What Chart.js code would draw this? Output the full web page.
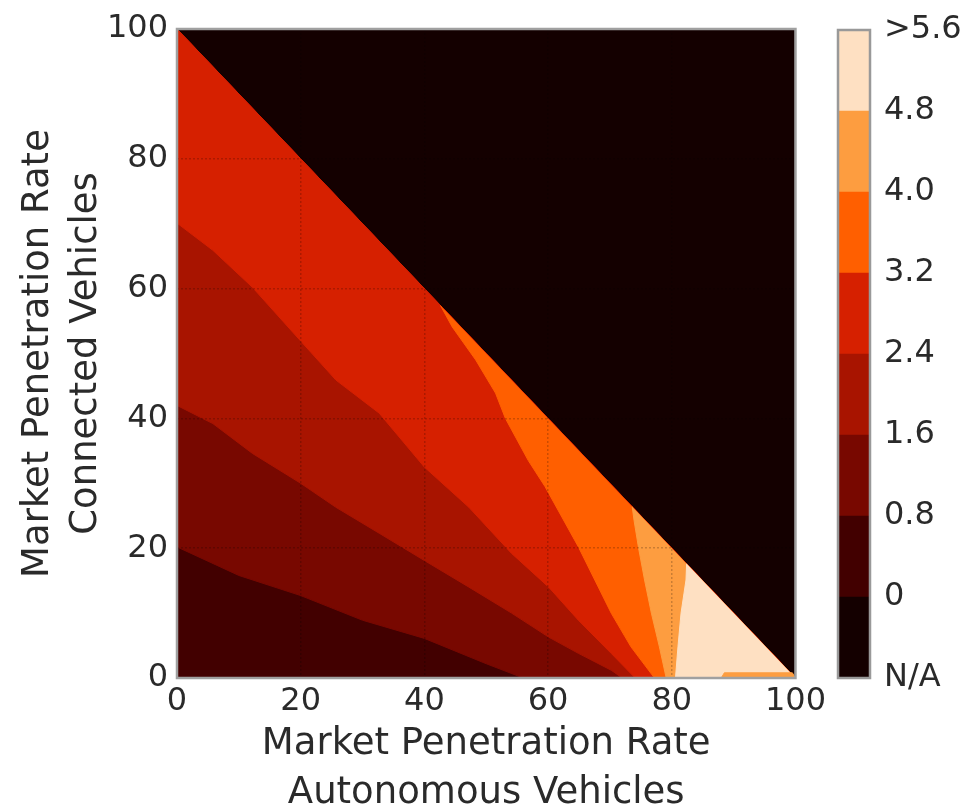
<!DOCTYPE html>
<html lang="en">
<head>
<meta charset="UTF-8">
<title>Market penetration contour</title>
<script src="https://cdn.jsdelivr.net/npm/chart.js"></script>
<style>
  html, body { margin: 0; padding: 0; background: #fff; overflow: hidden; }
  #main { position: absolute; left: 0; top: 0; width: 830px; height: 820px; }
  #bar { position: absolute; left: 800px; top: 0; width: 171px; height: 810px; }
</style>
</head>
<body>
<div id="main"><canvas id="contour"></canvas></div>
<div id="bar"><canvas id="colorbar"></canvas></div>
<script>
const axisTicks = [0, 20, 40, 60, 80, 100];
const bandLabels = ['N/A', '0', '0.8', '1.6', '2.4', '3.2', '4.0', '4.8', '>5.6'];
const bandSpan = [1, 1, 1, 1, 1, 1, 1, 1];
const bandColors = ['#140000', '#420000', '#780800', '#a81400', '#d62000', '#ff5f00', '#fd9d40', '#fee0c2'];

// domain outlines
const squareX = [0, 100, 100, 0];
const squareY = [0, 0, 100, 100];
const triX = [0, 100, 0];
const triY = [0, 0, 100];

// band edges (upper-left end first)
const edge08X = [0, 10, 20, 30, 40, 50, 56];
const edge08Y = [20.2, 15.8, 12.7, 8.9, 6.1, 2.2, 0];
const edge16X = [0, 5.8, 12.2, 20, 25.7, 32.7, 40, 47.2, 54.1, 60.1, 64.9, 70.2, 72];
const edge16Y = [42.0, 39.2, 34.6, 30.0, 26.3, 22.3, 18.1, 14.0, 10.0, 6.3, 3.8, 1.2, 0];
const edge24X = [0, 5.8, 12.2, 18.7, 25.7, 32.7, 40, 47.2, 54.1, 60.1, 64.9, 70.2, 74.1];
const edge24Y = [70.1, 65.9, 60.2, 53.3, 45.9, 40.8, 32.5, 26.3, 19.2, 14.0, 8.9, 3.8, 0];
const edge32X = [42.6, 44.5, 48.3, 51.5, 53.1, 56.8, 59.5, 64.9, 70.2, 73.4, 77.2];
const edge32Y = [57.4, 54.1, 49.0, 43.9, 40.0, 33.5, 29.5, 20.2, 10.0, 4.8, 0];
const edge40X = [73.6, 73.9, 74.6, 75.6, 76.7, 78.0, 79.1];
const edge40Y = [26.4, 24.3, 20.2, 15.1, 10.0, 4.8, 0];
const edge48X = [82.4, 82.3, 81.5, 81.0, 80.6];
const edge48Y = [17.6, 15.1, 10.0, 4.8, 0];
const stripX = [88, 88.5, 99.5, 100];
const stripY = [0, 0.8, 0.8, 0];

function zip(xs, ys) {
  return xs.map((x, i) => ({ x: x, y: ys[i] }));
}

// region above an edge, closed along the bottom axis and the diagonal
function above(xs, ys) {
  const pts = zip(xs, ys);
  pts.push({ x: triX[1], y: triY[1] });
  if (xs[0] === 0) pts.push({ x: triX[2], y: triY[2] });
  return pts;
}

const layers = [
  [zip(squareX, squareY), bandColors[0]],
  [zip(triX, triY), bandColors[1]],
  [above(edge08X, edge08Y), bandColors[2]],
  [above(edge16X, edge16Y), bandColors[3]],
  [above(edge24X, edge24Y), bandColors[4]],
  [above(edge32X, edge32Y), bandColors[5]],
  [above(edge40X, edge40Y), bandColors[6]],
  [above(edge48X, edge48Y), bandColors[7]],
  [zip(stripX, stripY), bandColors[6]]
];

const framePlugin = {
  id: 'frame',
  afterDraw(chart, args, opts) {
    const { ctx, chartArea: a } = chart;
    ctx.save();
    ctx.strokeStyle = opts.color;
    ctx.lineWidth = opts.width;
    ctx.strokeRect(a.left, a.top, a.right - a.left, a.bottom - a.top);
    ctx.restore();
  }
};

const tickFont = { family: 'DejaVu Sans', size: 32 };
const titleFont = { family: 'DejaVu Sans', size: 37, lineHeight: 1.3 };
const textColor = '#2a2a2a';
const gridColor = c => (c.tick && (c.tick.value === 0 || c.tick.value === 100)) ? 'transparent' : 'rgba(0,0,0,0.2)';

new Chart(document.getElementById('contour'), {
  type: 'line',
  data: {
    datasets: layers.map((l, i) => ({
      data: l[0],
      backgroundColor: l[1],
      borderColor: l[1],
      borderWidth: 1,
      pointRadius: 0,
      fill: 'shape',
      order: layers.length - 1 - i
    }))
  },
  options: {
    responsive: true,
    maintainAspectRatio: false,
    animation: false,
    layout: { padding: { top: 29, right: 32, left: 0, bottom: 0 } },
    plugins: {
      legend: { display: false },
      tooltip: { enabled: false },
      frame: { color: '#a0a0a0', width: 2.5 }
    },
    scales: {
      x: {
        type: 'linear', min: 0, max: 100,
        afterBuildTicks: s => { s.ticks = axisTicks.map(v => ({ value: v })); },
        ticks: { font: tickFont, color: textColor, padding: 4, maxRotation: 0, autoSkip: false },
        grid: { color: gridColor, lineWidth: 1.5, drawTicks: false, z: 1 },
        border: { display: false, dash: [2, 2] },
        title: { display: true, text: ['Market Penetration Rate', 'Autonomous Vehicles'], font: titleFont, color: textColor, padding: { top: 0, bottom: 3 } },
        afterFit: s => { s.height = 142; }
      },
      y: {
        type: 'linear', min: 0, max: 100,
        afterBuildTicks: s => { s.ticks = axisTicks.map(v => ({ value: v })); },
        ticks: { font: tickFont, color: textColor, padding: 9, autoSkip: false },
        grid: { color: gridColor, lineWidth: 1.5, drawTicks: false, z: 1 },
        border: { display: false, dash: [2, 2] },
        title: { display: true, text: ['Market Penetration Rate', 'Connected Vehicles'], font: titleFont, color: textColor, padding: { top: 14, bottom: 0 } },
        afterFit: s => { s.width = 177; }
      }
    }
  },
  plugins: [framePlugin]
});

new Chart(document.getElementById('colorbar'), {
  type: 'bar',
  data: {
    labels: [''],
    datasets: bandColors.map((c, i) => ({
      data: [bandSpan[i]],
      backgroundColor: c,
      borderWidth: 0,
      barPercentage: 1,
      categoryPercentage: 1
    }))
  },
  options: {
    responsive: true,
    maintainAspectRatio: false,
    animation: false,
    layout: { padding: { left: 38, top: 30, bottom: 132, right: 0 } },
    plugins: {
      legend: { display: false },
      tooltip: { enabled: false },
      frame: { color: '#999', width: 2.5 }
    },
    scales: {
      x: { display: false, stacked: true },
      y: {
        stacked: true, position: 'right', min: 0, max: bandLabels.length - 1,
        afterBuildTicks: s => { s.ticks = bandLabels.map((_, i) => ({ value: i })); },
        ticks: { callback: v => bandLabels[v], font: tickFont, color: textColor, padding: 6, autoSkip: false },
        grid: { display: false },
        border: { display: false },
        afterFit: s => { s.width = 101; }
      }
    }
  },
  plugins: [framePlugin]
});
</script>
</body>
</html>
